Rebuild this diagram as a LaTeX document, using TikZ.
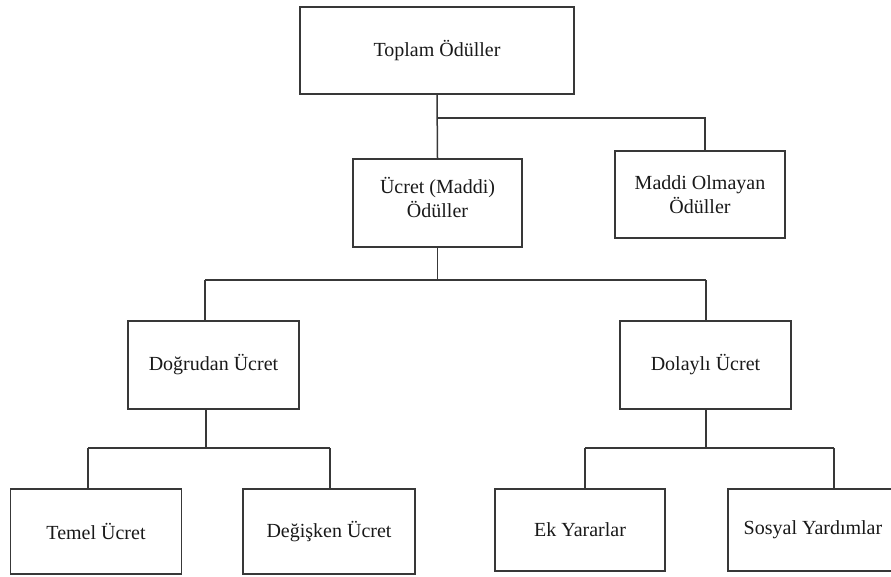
\documentclass[tikz,border=0pt]{standalone}
\usepackage{fontspec}
\setmainfont{Liberation Serif}
\begin{document}
\begin{tikzpicture}[x=1pt,y=-1pt,
  box/.style={draw=black!78,line width=1.5pt,rectangle,inner sep=0pt,align=center,
    font=\fontsize{20}{24}\selectfont,text=black!90},
  conn/.style={draw=black!78,line width=1.5pt}]
\useasboundingbox (0,0) rectangle (891,576);
\begin{scope}
\clip (0,0) rectangle (891,576);
\node[box,minimum width=274pt,minimum height=87pt] (top) at (437,50.5) {Toplam Ödüller};
\node[box,minimum width=169pt,minimum height=88pt] (ucret) at (437.5,203) {};
\node[font=\fontsize{20}{24}\selectfont,text=black!90,align=center] (ucrett) at (437.5,197) {Ücret (Maddi)\\Ödüller};
\node[box,minimum width=170pt,minimum height=87pt] (maddi) at (700,194.5) {Maddi Olmayan\\Ödüller};
\node[box,minimum width=171pt,minimum height=88pt] (dog) at (213.5,365) {Doğrudan Ücret};
\node[box,minimum width=171pt,minimum height=88pt] (dol) at (705.5,365) {Dolaylı Ücret};
\node[box,minimum width=171pt,minimum height=85pt] (temel) at (96,531.5) {Temel Ücret};
\node[box,minimum width=172pt,minimum height=85pt] (degisken) at (329,531.5) {Değişken Ücret};
\node[box,minimum width=170pt,minimum height=82pt] (ek) at (580,530) {Ek Yararlar};
\node[box,minimum width=170pt,minimum height=82pt] (sosyal) at (813,530) {Sosyal Yardımlar};

\coordinate (j1) at (437,118);
\coordinate (j1r) at (705,118);
\coordinate (j2) at (437.5,280);
\coordinate (j2l) at (205,280);
\coordinate (j2r) at (706,280);
\coordinate (j3) at (206,448);
\coordinate (j3l) at (88,448);
\coordinate (j3r) at (330,448);
\coordinate (j4) at (706,448);
\coordinate (j4l) at (585,448);
\coordinate (j4r) at (834,448);

\draw[conn] (top.south) -- (ucret.north);
\draw[conn] (j1) -- (j1r) -- (j1r |- maddi.north);
\draw[conn] (ucret.south) -- (j2);
\draw[conn] (j2l) -- (j2r);
\draw[conn] (j2l) -- (j2l |- dog.north);
\draw[conn] (j2r) -- (j2r |- dol.north);
\draw[conn] (dog.south -| j3) -- (j3);
\draw[conn] (j3l) -- (j3r);
\draw[conn] (j3l) -- (j3l |- temel.north);
\draw[conn] (j3r) -- (j3r |- degisken.north);
\draw[conn] (dol.south -| j4) -- (j4);
\draw[conn] (j4l) -- (j4r);
\draw[conn] (j4l) -- (j4l |- ek.north);
\draw[conn] (j4r) -- (j4r |- sosyal.north);
\end{scope}
\end{tikzpicture}
\end{document}
